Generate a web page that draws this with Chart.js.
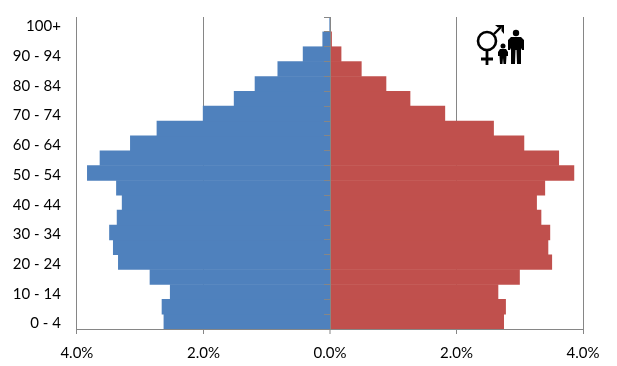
<!DOCTYPE html>
<html>
<head>
<meta charset="utf-8">
<script src="https://cdn.jsdelivr.net/npm/chart.js@4"></script>
<style>
  html, body { margin: 0; padding: 0; background: #fff; }
  #wrap { position: relative; width: 617px; height: 366px; }
  #icon { position: absolute; left: 470px; top: 20px; }
</style>
</head>
<body>
<div id="wrap">
  <canvas id="chart" width="617" height="366"></canvas>
  <!-- male/female + adult and child pictogram -->
  <svg id="icon" width="60" height="50" viewBox="470 20 60 50">
    <circle cx="487" cy="41" r="9" fill="none" stroke="#000" stroke-width="2.6"/>
    <path d="M494 34 L501 27" stroke="#000" stroke-width="2.4" fill="none"/>
    <path d="M495 25 L504 25 L504 34 L501.500 31 L501.500 27.500 L498 27.500 Z" fill="#000"/>
    <path d="M487 50 L487 65 M481 59 L493 59" stroke="#000" stroke-width="2.8" fill="none"/>
    <circle cx="516" cy="33" r="3.2" fill="#000"/>
    <path d="M511 37 L521 37 L524 40 L524 50 L522 50 L521 48 L521 64 L517 64 L516.500 50 L515.500 50 L515 64 L511 64 L511 48 L510 50 L508 50 L508 40 Z" fill="#000"/>
    <circle cx="503" cy="46" r="2.5" fill="#000"/>
    <path d="M500 49 L506 49 L508 52 L508 56 L506.500 56 L506 64 L503.500 64 L503 58 L502.500 64 L500 64 L499.500 56 L498 56 L498 52 Z" fill="#000"/>
  </svg>
</div>
<script>
const ageGroups = ['0 - 4', '5 - 9', '10 - 14', '15 - 19', '20 - 24', '25 - 29', '30 - 34', '35 - 39', '40 - 44', '45 - 49',
  '50 - 54', '55 - 59', '60 - 64', '65 - 69', '70 - 74', '75 - 79', '80 - 84', '85 - 89', '90 - 94', '95 - 99', '100+'];

// left side, plotted as negatives
const male = [-2.63, -2.66, -2.53, -2.85, -3.35, -3.43, -3.49, -3.37, -3.29, -3.38,
  -3.84, -3.64, -3.16, -2.74, -2.01, -1.52, -1.19, -0.83, -0.43, -0.12, -0.01];
const female = [2.75, 2.78, 2.66, 3.00, 3.51, 3.45, 3.48, 3.34, 3.27, 3.40,
  3.86, 3.62, 3.07, 2.59, 1.82, 1.27, 0.89, 0.50, 0.18, 0.03, 0.01];

const xTicks = [-4, -2, 0, 2, 4];

const AXIS_GREY = '#868686';
const labelFont = { family: "Lato, 'Open Sans', sans-serif", size: 15 };

new Chart(document.getElementById('chart').getContext('2d'), {
  type: 'bar',
  data: {
    labels: ageGroups,
    datasets: [
      { label: 'Male', data: male, backgroundColor: '#4F81BD', borderWidth: 0, inflateAmount: 0 },
      { label: 'Female', data: female, backgroundColor: '#C0504D', borderWidth: 0, inflateAmount: 0 }
    ]
  },
  options: {
    indexAxis: 'y',
    responsive: false,
    animation: false,
    categoryPercentage: 1,
    barPercentage: 1.04, // slight overlap, stops seams between rows
    layout: { padding: { left: 0, right: 33.9, top: 11.1, bottom: 0 } },
    plugins: { legend: { display: false }, tooltip: { enabled: false } },
    scales: {
      x: {
        stacked: true,
        min: -4,
        max: 4,
        afterBuildTicks: (scale) => { scale.ticks = xTicks.map(v => ({ value: v })); },
        afterFit: (scale) => { scale.height = 37; },
        grid: {
          color: AXIS_GREY,
          // zero line comes from yZero, width 0 here keeps the bars touching it
          lineWidth: (ctx) => (ctx.tick && ctx.tick.value === 0 ? 0 : 1),
          tickLength: 5,
          tickWidth: 1,
          tickColor: AXIS_GREY
        },
        border: { color: AXIS_GREY },
        ticks: {
          color: '#000',
          font: labelFont,
          padding: 10,
          maxRotation: 0,
          callback: (v) => Math.abs(v).toFixed(1) + '%'
        }
      },
      y: {
        stacked: true,
        reverse: true,
        afterFit: (scale) => { scale.width = 76.9; },
        grid: { display: false },
        border: { display: false },
        ticks: {
          color: '#000',
          font: labelFont,
          padding: 8,
          labelOffset: 2,
          autoSkip: false,
          // every other age group is labelled
          callback: (v, i) => (i % 2 === 0 ? ageGroups[i] : '')
        }
      },
      // centre axis with the tick marks, sits on top of the bars
      yZero: {
        axis: 'y',
        type: 'category',
        position: { x: 0 },
        reverse: true,
        offset: true,
        grid: {
          offset: true,
          drawOnChartArea: false,
          tickLength: 6,
          tickColor: AXIS_GREY,
          z: 2
        },
        border: { color: AXIS_GREY, z: 2 },
        ticks: { display: false, autoSkip: false }
      }
    }
  }
});
</script>
</body>
</html>
